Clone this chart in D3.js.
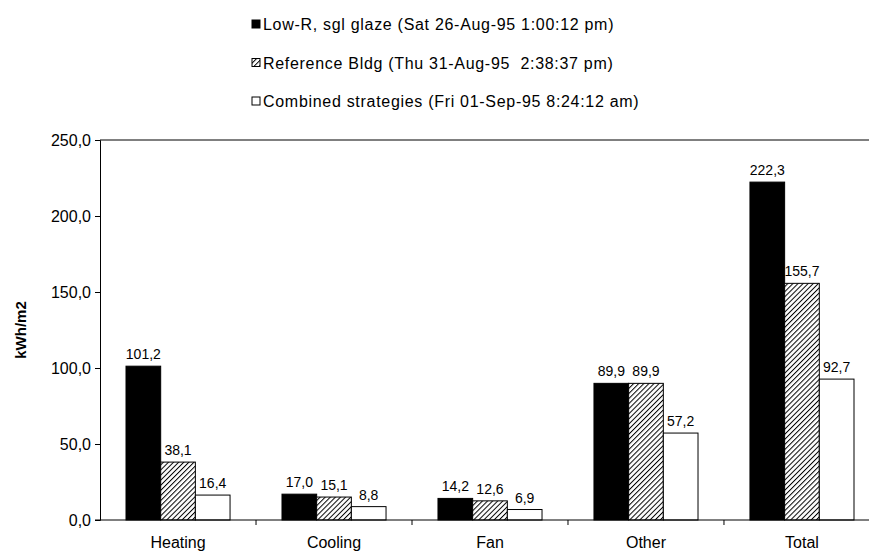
<!DOCTYPE html>
<html>
<head>
<meta charset="utf-8">
<title>kWh/m2</title>
<script src="https://cdn.jsdelivr.net/npm/d3@7/dist/d3.min.js"></script>
<style>
body { margin: 0; background: #fff; }
svg { font-family: "Liberation Sans", Arial, sans-serif; }
</style>
</head>
<body>
<svg id="chart"></svg>
<script>
// data
var categories = ["Heating", "Cooling", "Fan", "Other", "Total"];
var seriesNames = [
	"Low-R, sgl glaze (Sat 26-Aug-95 1:00:12 pm)",
	"Reference Bldg (Thu 31-Aug-95  2:38:37 pm)",
	"Combined strategies (Fri 01-Sep-95 8:24:12 am)"
];
var lowR      = [101.2, 17.0, 14.2, 89.9, 222.3];
var reference = [38.1, 15.1, 12.6, 89.9, 155.7];
var combined  = [16.4, 8.8, 6.9, 57.2, 92.7];
var yTicks = [0, 50, 100, 150, 200, 250];

var W = 869, H = 553;
var m = { left: 100, top: 140, bottom: 520, right: 880 };
var fmt = function(v) { return d3.format(".1f")(v).replace(".", ","); };

var svg = d3.select("#chart").attr("width", W).attr("height", H);

// hatch pattern for the middle series
var defs = svg.append("defs");
var pat = defs.append("pattern")
	.attr("id", "hatch")
	.attr("patternUnits", "userSpaceOnUse")
	.attr("width", 3.6).attr("height", 3.6)
	.attr("patternTransform", "rotate(45)");
pat.append("rect").attr("width", 3.6).attr("height", 3.6).attr("fill", "#fff");
pat.append("line").attr("x1", 0).attr("y1", 0).attr("x2", 0).attr("y2", 3.6)
	.attr("stroke", "#000").attr("stroke-width", 2);

var fills = ["#000", "url(#hatch)", "#fff"];
var series = [lowR, reference, combined];

var x0 = d3.scaleBand().domain(categories).range([m.left, m.right])
	.paddingInner(0.333).paddingOuter(0.1667);
var x1 = d3.scaleBand().domain(d3.range(series.length)).range([0, x0.bandwidth()]);
var y = d3.scaleLinear().domain([0, 250]).range([m.bottom, m.top]);

// top border
svg.append("line")
	.attr("x1", m.left).attr("x2", W).attr("y1", y(250)).attr("y2", y(250))
	.attr("stroke", "#000").attr("stroke-width", 1);

// y axis
var yAxis = svg.append("g")
	.attr("transform", "translate(" + m.left + ",0)")
	.call(d3.axisLeft(y).tickValues(yTicks).tickFormat(fmt).tickSize(5).tickPadding(4));
yAxis.selectAll("text").attr("font-size", 16).attr("font-family", "Liberation Sans, Arial, sans-serif").attr("fill", "#000");
yAxis.select(".domain").attr("stroke", "#000");

// y title
svg.append("text")
	.attr("transform", "translate(26," + ((m.top + m.bottom) / 2) + ") rotate(-90)")
	.attr("text-anchor", "middle")
	.attr("font-size", 15).attr("font-weight", "bold")
	.text("kWh/m2");

// bars
var groups = svg.append("g").selectAll("g")
	.data(categories).join("g")
	.attr("transform", function(d) { return "translate(" + x0(d) + ",0)"; });

groups.selectAll("rect")
	.data(function(d, i) { return series.map(function(s, k) { return { k: k, v: s[i] }; }); })
	.join("rect")
	.attr("x", function(d) { return x1(d.k); })
	.attr("width", x1.bandwidth())
	.attr("y", function(d) { return y(d.v); })
	.attr("height", function(d) { return y(0) - y(d.v); })
	.attr("fill", function(d) { return fills[d.k]; })
	.attr("stroke", "#000").attr("stroke-width", 1);

groups.selectAll("text")
	.data(function(d, i) { return series.map(function(s, k) { return { k: k, v: s[i] }; }); })
	.join("text")
	.attr("x", function(d) { return x1(d.k) + x1.bandwidth() / 2; })
	.attr("y", function(d) { return y(d.v) - 7; })
	.attr("text-anchor", "middle")
	.attr("font-size", 14)
	.text(function(d) { return fmt(d.v); });

// x axis: line, ticks between categories, labels
var xg = svg.append("g").attr("transform", "translate(0," + m.bottom + ")");
xg.append("line").attr("x1", m.left - 5).attr("x2", W).attr("stroke", "#000");
xg.selectAll(".tick")
	.data(categories.slice(1)).join("line")
	.attr("class", "tick")
	.attr("x1", function(d) { return x0(d) - x0.step() * x0.paddingInner() / 2; })
	.attr("x2", function(d) { return x0(d) - x0.step() * x0.paddingInner() / 2; })
	.attr("y1", 0).attr("y2", 5)
	.attr("stroke", "#000");
xg.selectAll(".lab")
	.data(categories).join("text")
	.attr("class", "lab")
	.attr("x", function(d) { return x0(d) + x0.bandwidth() / 2; })
	.attr("y", 28)
	.attr("text-anchor", "middle")
	.attr("font-size", 16)
	.text(function(d) { return d; });

// legend
var leg = svg.append("g").selectAll("g")
	.data(seriesNames).join("g")
	.attr("transform", function(d, i) { return "translate(252," + (24 + i * 38.5) + ")"; });
leg.append("rect")
	.attr("x", 0).attr("y", -4).attr("width", 8).attr("height", 8)
	.attr("fill", function(d, i) { return fills[i]; })
	.attr("stroke", "#000").attr("stroke-width", 1);
leg.append("text")
	.attr("x", 11).attr("y", 6)
	.attr("font-size", 16)
	.attr("letter-spacing", 0.7)
	.attr("xml:space", "preserve")
	.text(function(d) { return d; });
</script>
</body>
</html>
